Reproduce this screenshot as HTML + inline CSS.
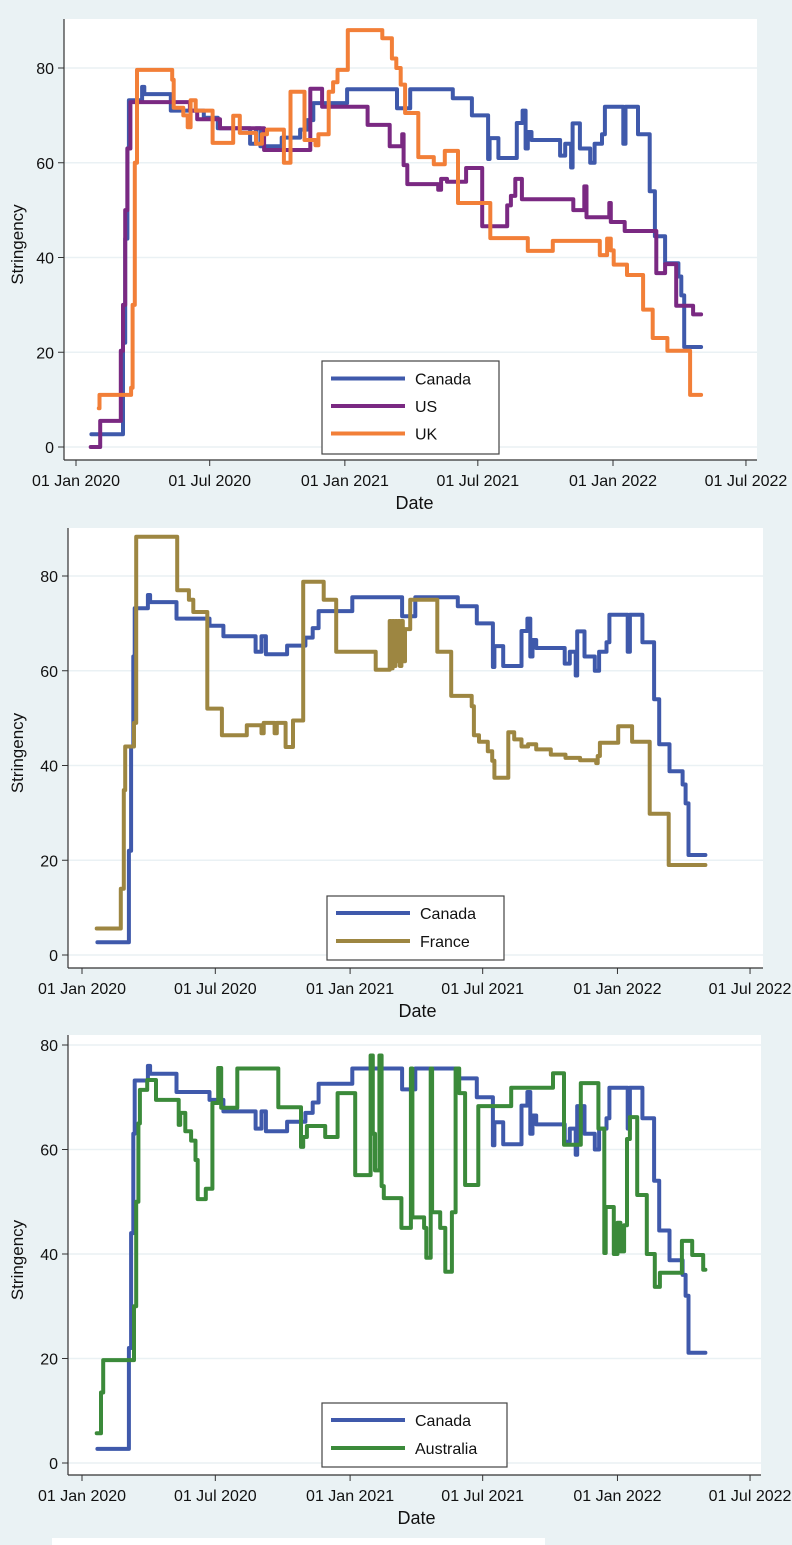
<!DOCTYPE html>
<html><head><meta charset="utf-8"><style>
html,body{margin:0;padding:0;background:#eaf2f4;}
body{width:792px;height:1545px;overflow:hidden;position:relative;font-family:"Liberation Sans",sans-serif;}
svg{position:absolute;left:0;top:0;}
text{font-family:"Liberation Sans",sans-serif;fill:#111;}
</style></head><body>
<svg id="chart" width="792" height="1545" viewBox="0 0 792 1545">
<rect x="52" y="1538" width="493" height="7" fill="#ffffff"/>
</svg>
<script>
const yTicks=[0,20,40,60,80];
const xTickDays=[0,182,366,547,731,912];
const xTickLabels=["01 Jan 2020","01 Jul 2020","01 Jan 2021","01 Jul 2021","01 Jan 2022","01 Jul 2022"];

const canadaDays=[21,64,67,70,72,90,93,129,174,193,237,245,251,280,305,315,323,369,437,455,513,539,561,563,575,600,608,612,615,620,659,666,674,676,686,700,706,716,720,745,748,765,781,788,802,820,824,828,851];
const canadaVals=[2.7,22,44,63,73.2,76,74.5,71,69.5,67.3,64,67.3,63.5,65.3,67,69,72.6,75.5,71.5,75.5,73.6,70,60.8,65.2,61,68.4,71,63,66.5,64.8,61.5,64,59,68.3,63,60,64,66,71.8,64,71.8,66,54,44.5,38.8,36,32,21.1,21.1];

const usDays=[20,33,61,64,67,70,74,155,165,196,256,319,335,397,427,444,446,451,493,497,505,531,553,587,592,598,607,677,692,695,726,728,747,790,802,817,840,851];
const usVals=[0,5.5,20.3,30,50,63,72.8,71,69.2,67.3,62.7,75.6,71.8,68,63.5,66,59.5,55.5,54.3,56.6,56,58.9,46.6,51,53,56.6,52.3,50,55,48.5,51.5,47.5,45.6,36.7,38.6,29.8,28,28];

const ukDays=[31,32,75,77,80,83,131,133,146,152,156,163,186,214,223,245,253,260,283,292,311,326,330,344,350,356,370,417,430,436,442,448,466,487,502,520,564,615,649,713,723,728,732,750,772,785,805,836,851];
const ukVals=[8.2,11,12.5,30,60,79.6,77.5,71.6,70,67.5,73.2,71,64.2,69.9,66.3,64,66,67,60,75,64.8,63.7,66,75,77,79.6,88,86.3,82,80,76.5,70.5,61.2,59.7,62.5,51.5,44.1,41.4,43.5,40.5,44,41.5,38.5,36.3,29,23,20.3,11,11];

const franceDays=[20,53,57,59,71,74,130,146,152,171,191,225,245,248,263,266,278,288,302,330,347,401,420,422,424,426,428,430,432,434,436,438,441,448,485,504,532,535,542,554,560,563,582,590,600,609,620,640,660,680,702,704,707,732,751,775,801,851];
const franceVals=[5.6,14,34.8,44,49,88.3,77,75,72.4,52,46.4,48.5,46.8,49,46.8,49,43.9,49.5,78.8,75,64,60.2,70.5,60.5,70.5,61,70.5,62,70.5,61,70.5,62,68.8,75,64,54.7,52.5,46.4,45,43,41,37.4,47,45.5,44,44.5,43.4,42.3,41.6,41.1,40.5,42,44.8,48.3,45,29.8,19,19];

const ausDays=[20,26,29,71,74,77,79,89,101,132,134,141,149,155,158,169,178,186,190,212,268,299,302,307,332,349,373,394,397,400,406,409,412,436,447,449,451,467,470,476,478,489,496,505,510,515,523,541,586,643,658,681,705,713,715,726,731,735,740,744,748,758,771,782,789,819,833,848,851];
const ausVals=[5.7,13.5,19.7,30,50,65,71.4,73.3,69.5,64.7,67,63.5,61.7,58,50.5,52.5,68.9,75.6,68,75.5,68.1,60.5,62.4,64.5,62.4,70.8,55.1,78,63,56,78,53,50.7,45,45,75.5,47,45,39.3,75.5,48,45,36.6,48,75.5,70.8,53.2,68.3,71.8,74.6,60.9,72.7,64,40.2,49,40,46,40.5,45.5,62,66.2,51.3,40,33.7,36.4,42.5,39.8,37,37];

const COL={canada:"#3f59ab",us:"#7a2982",uk:"#f27f38",france:"#9d8641",aus:"#3b8a3a"};
const NS="http://www.w3.org/2000/svg";
const svg=document.getElementById("chart");
function mk(tag,attrs,parent){const e=document.createElementNS(NS,tag);for(const k in attrs)e.setAttribute(k,attrs[k]);(parent||svg).appendChild(e);return e;}

const panels=[
 {id:"panel-1",left:64,right:757,top:19,bottom:460,x0:76,xs:0.7346,y0:447,ys:4.7375,titleY:509,tickY:486,
  series:[["canada",canadaDays,canadaVals,"Canada"],["us",usDays,usVals,"US"],["uk",ukDays,ukVals,"UK"]],
  legend:{x:322,y:361,w:177,h:93}},
 {id:"panel-2",left:68,right:763,top:528,bottom:968,x0:82,xs:0.7325,y0:955,ys:4.7375,titleY:1017,tickY:994,
  series:[["canada",canadaDays,canadaVals,"Canada"],["france",franceDays,franceVals,"France"]],
  legend:{x:327,y:896,w:177,h:64}},
 {id:"panel-3",left:68,right:761,top:1035,bottom:1475,x0:82,xs:0.7325,y0:1463,ys:5.225,titleY:1524,tickY:1501,
  series:[["canada",canadaDays,canadaVals,"Canada"],["aus",ausDays,ausVals,"Australia"]],
  legend:{x:322,y:1403,w:185,h:64}}
];

panels.forEach(p=>{
  const g=mk("g",{});
  
  
  const X=d=>p.x0+p.xs*d, Y=v=>p.y0-p.ys*v;
  const bg=mk("rect",{x:p.left,y:p.top,width:p.right-p.left,height:p.bottom-p.top,fill:"#ffffff"},g);
  
  
  yTicks.forEach(t=>{
    const gl=mk("line",{x1:p.left,x2:p.right,y1:Y(t),y2:Y(t),stroke:"#eaf1f4","stroke-width":1.5},g);
    
    
    const tk=mk("line",{x1:p.left-6,x2:p.left,y1:Y(t),y2:Y(t),stroke:"#333","stroke-width":1},g);
    
    
    const tl=mk("text",{x:p.left-10,y:Y(t)+6,"text-anchor":"end","font-size":"16"},g);
    tl.textContent=t;
    
    
  });
  const ya=mk("line",{x1:p.left,x2:p.left,y1:p.top,y2:p.bottom,stroke:"#333","stroke-width":1.2},g);
  
  
  const xa=mk("line",{x1:p.left,x2:p.right,y1:p.bottom,y2:p.bottom,stroke:"#333","stroke-width":1.2},g);
  
  
  xTickDays.forEach((d,i)=>{
    const tk=mk("line",{x1:X(d),x2:X(d),y1:p.bottom,y2:p.bottom+6,stroke:"#333","stroke-width":1},g);
    
    
    const tl=mk("text",{x:X(d),y:p.tickY,"text-anchor":"middle","font-size":"16"},g);
    tl.textContent=xTickLabels[i];
    
    
  });
  const xt=mk("text",{x:(p.left+p.right)/2+(p.id==="panel-1"?4:2),y:p.titleY,"text-anchor":"middle","font-size":"18"},g);
  xt.textContent="Date";
  
  
  const cy=(p.top+p.bottom)/2+5;
  const yt=mk("text",{x:23,y:cy,"text-anchor":"middle","font-size":"17",transform:`rotate(-90 23 ${cy})`},g);
  yt.textContent="Stringency";
  
  
  p.series.forEach(([key,days,vals])=>{
    let d=`M${X(days[0]).toFixed(1)},${Y(vals[0]).toFixed(1)}`;
    for(let i=1;i<days.length;i++){d+=`H${X(days[i]).toFixed(1)}V${Y(vals[i]).toFixed(1)}`;}
    const path=mk("path",{d:d,fill:"none",stroke:COL[key],"stroke-width":4,"stroke-linejoin":"round","stroke-linecap":"round"},g);
    
    
  });
  const L=p.legend;
  const lg=mk("g",{},g);
  
  
  mk("rect",{x:L.x,y:L.y,width:L.w,height:L.h,fill:"#fff",stroke:"#444","stroke-width":1.2},lg);
  const n=p.series.length;
  const step=n===3?27.5:28;
  const startY=L.y+ (n===3?17.5:17);
  p.series.forEach(([key,, ,label],i)=>{
    const ly=startY+i*step;
    const ln=mk("line",{x1:L.x+9,x2:L.x+83,y1:ly,y2:ly,stroke:COL[key],"stroke-width":4},lg);
    
    
    const lt=mk("text",{x:L.x+93,y:ly+6,"font-size":"16"},lg);
    lt.textContent=label;
    
    
  });
});
</script>
</body></html>
